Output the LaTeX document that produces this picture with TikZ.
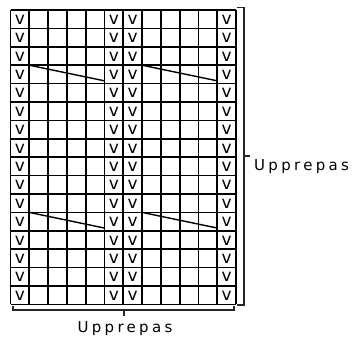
\documentclass[tikz,border=0pt]{standalone}
\usepackage{fontspec}
\setmainfont{DejaVu Sans}
\begin{document}
\begin{tikzpicture}[x=1pt,y=-1pt,
  gridline/.style={line width=1.7pt,black},
  brk/.style={line width=1.1pt,black!85},
  diag/.style={line width=1.4pt,black},
  vmark/.style={font=\fontsize{17}{17}\selectfont, inner sep=0pt},
  lab/.style={font=\fontsize{15}{15}\selectfont\addfontfeature{LetterSpace=22}, inner sep=0pt}]
\useasboundingbox (0,0) rectangle (355,343);
\def\cw{18.8}
\def\rh{18.4}
% grid
\foreach \c in {0,...,12} {\draw[gridline] (10.5+\c*\cw,10) -- (10.5+\c*\cw,10+16*\rh);}
\foreach \r in {0,...,16} {\draw[gridline] (10.5,10+\r*\rh) -- (10.5+12*\cw,10+\r*\rh);}
% v marks
\foreach \r in {0,...,15} {
  \foreach \c in {0,5,6,11} {
    \node[vmark] (v-\r-\c) at (10.5+\c*\cw+0.5*\cw, 10+\r*\rh+0.52*\rh) {v};
  }
}
% diagonals
\foreach \r in {3,11} {
  \draw[diag] (10.5+1*\cw,10+\r*\rh) -- (10.5+5*\cw,10+\r*\rh+0.85*\rh);
  \draw[diag] (10.5+7*\cw,10+\r*\rh) -- (10.5+11*\cw,10+\r*\rh+0.85*\rh);
}
% right bracket
\coordinate (rt) at (244,7.5);
\coordinate (rb) at (244,305);
\draw[brk] (237,7.5) -- (rt) -- (rb) -- (237,305);
\coordinate (rm) at (244,156);
\draw[brk] (rm) -- (250,156);
\node[lab,anchor=west] (rlab) at (254,167) {Upprepas};
% bottom bracket
\coordinate (bl) at (13,310);
\coordinate (br) at (234,310);
\draw[brk] (13,305.5) -- (bl) -- (br) -- (234,305.5);
\coordinate (bm) at (124,310);
\draw[brk] (bm) -- (124,315.5);
\node[lab] (blab) at (125,329) {Upprepas};
\end{tikzpicture}
\end{document}
